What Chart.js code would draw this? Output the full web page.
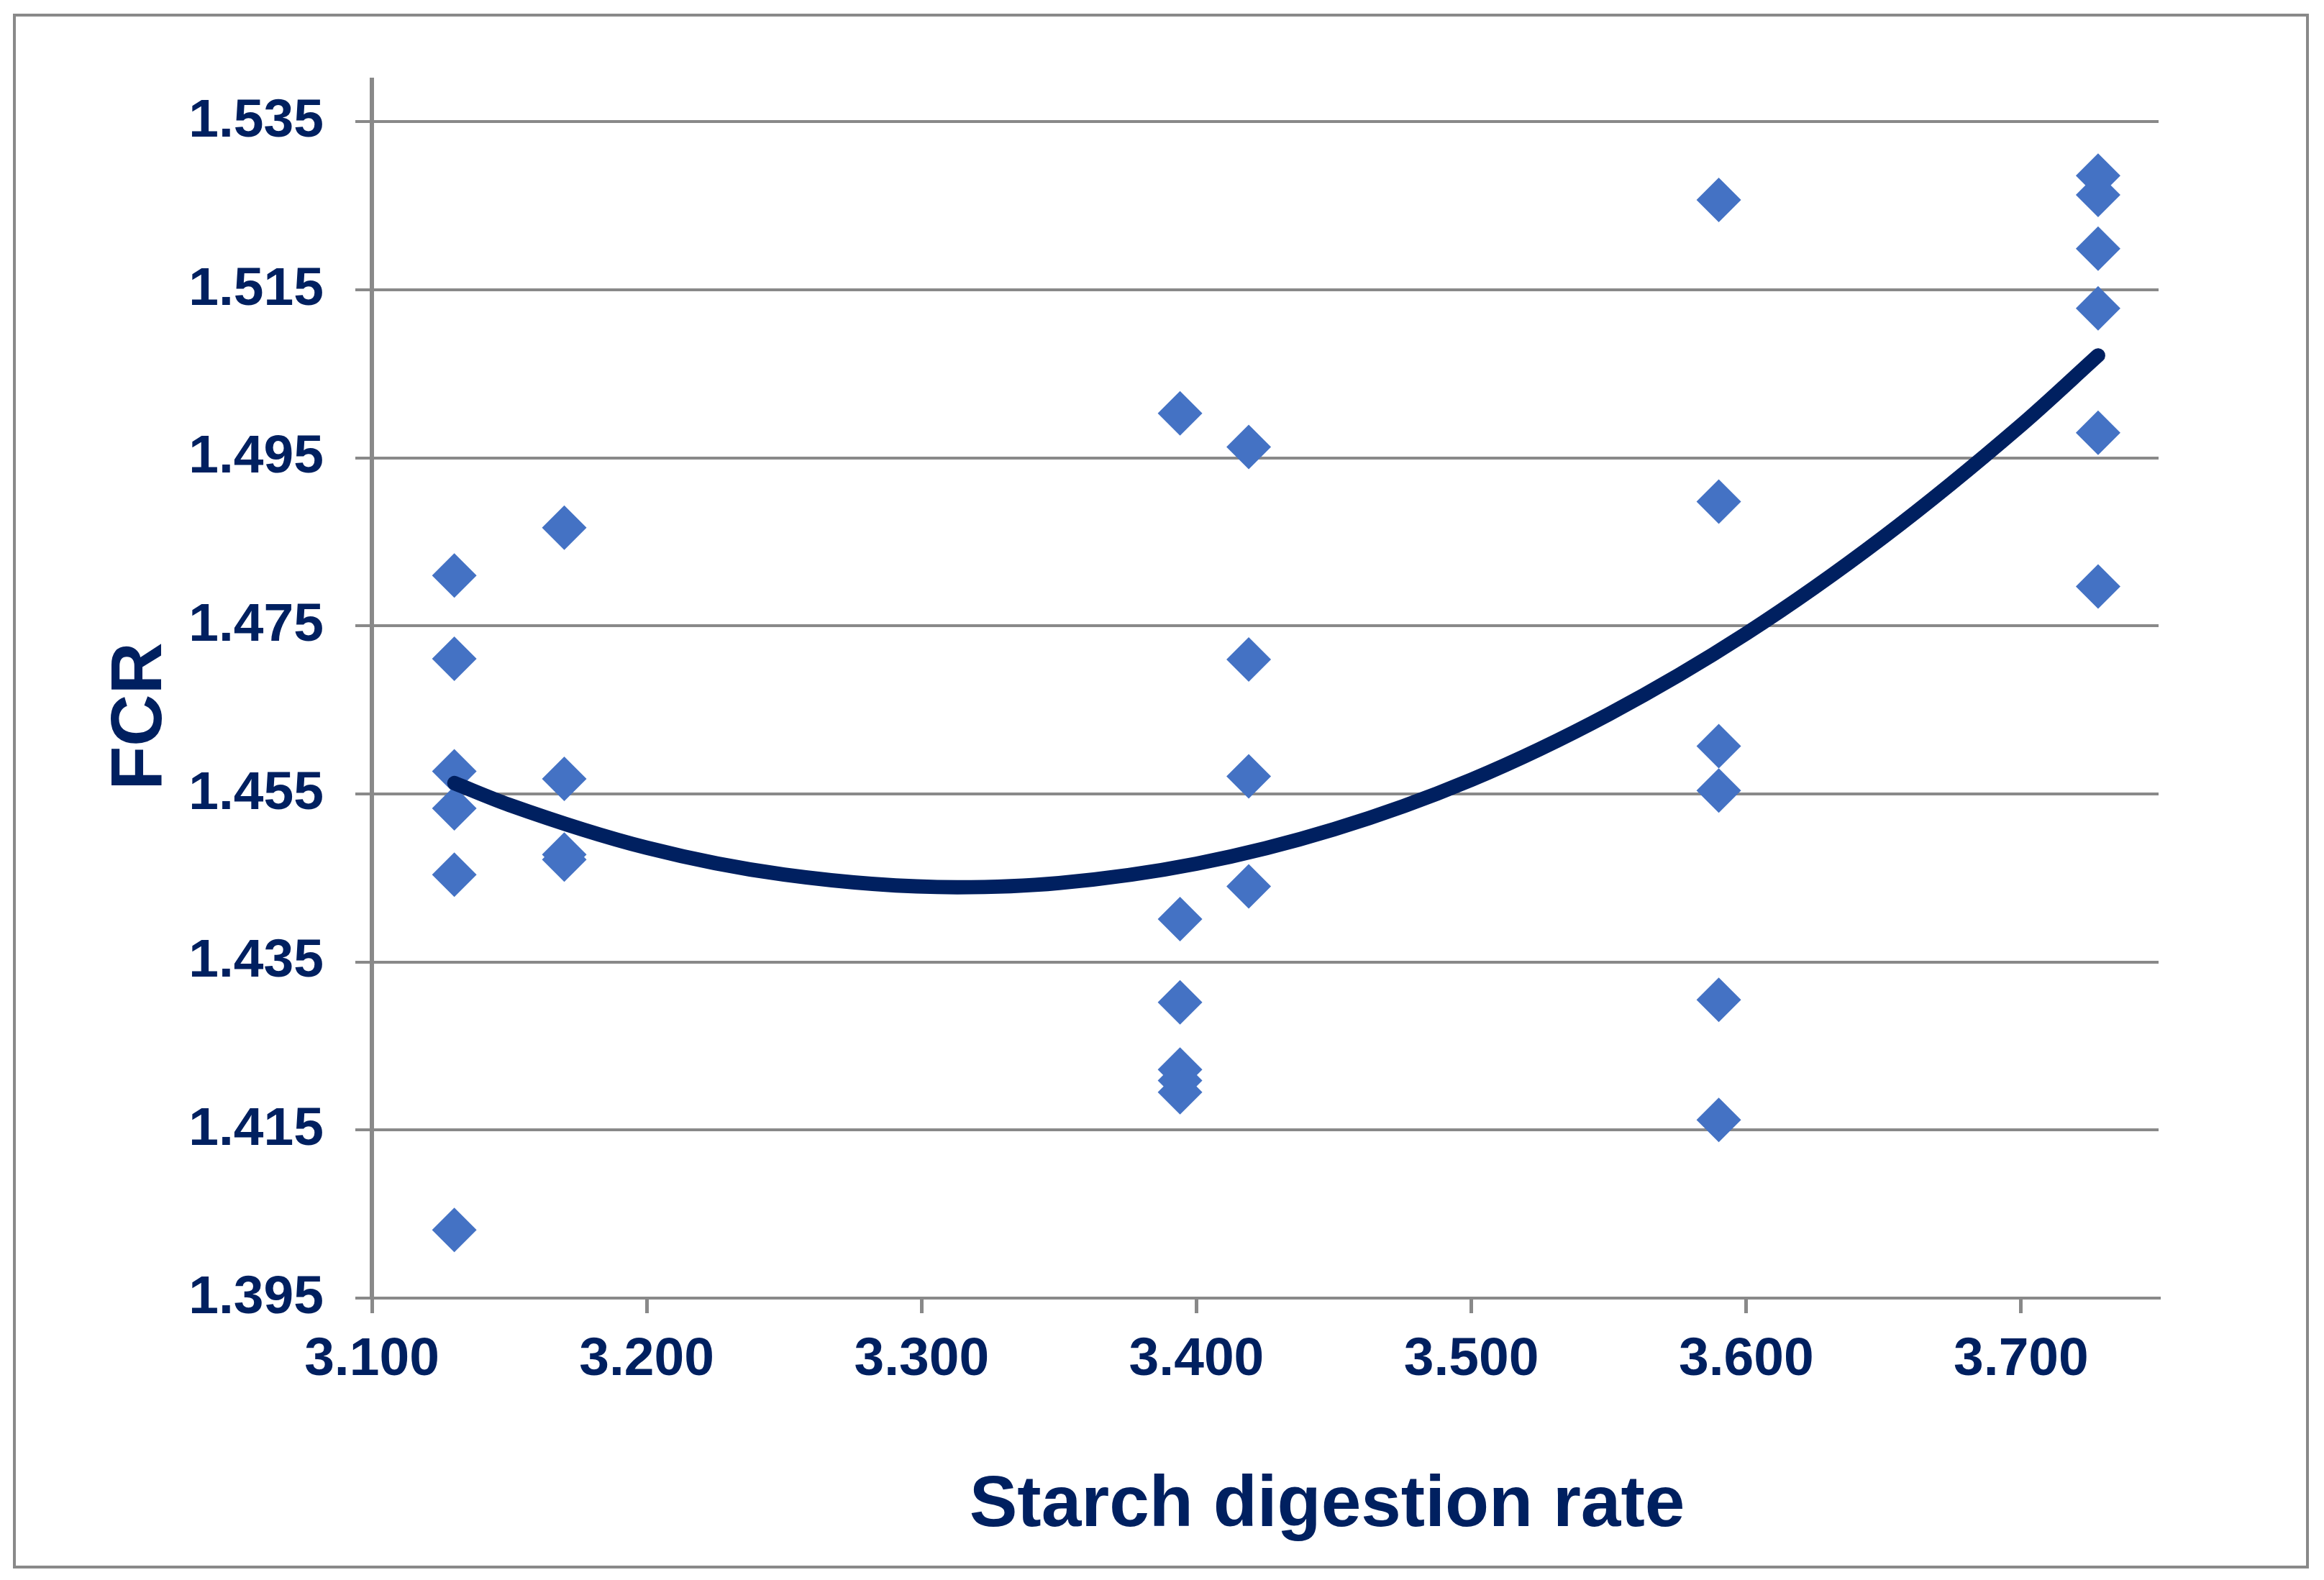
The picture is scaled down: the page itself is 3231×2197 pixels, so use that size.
<!DOCTYPE html>
<html>
<head>
<meta charset="utf-8">
<script src="https://cdn.jsdelivr.net/npm/chart.js@4.4.0/dist/chart.umd.min.js"></script>
<style>
  html, body { margin: 0; padding: 0; background: #fff; }
  #wrap { width: 3231px; height: 2197px; position: relative; }
</style>
</head>
<body>
<div id="wrap"><canvas id="fcrChart"></canvas></div>
<script>
// scatter data (starch digestion rate vs FCR)
const starchRate = [
  3.130, 3.130, 3.130, 3.130, 3.130, 3.130,
  3.170, 3.170, 3.170, 3.170,
  3.394, 3.394, 3.394, 3.394, 3.394, 3.394,
  3.419, 3.419, 3.419, 3.419,
  3.590, 3.590, 3.590, 3.590, 3.590, 3.590,
  3.728, 3.728, 3.728, 3.728, 3.728, 3.728
];
const fcrValues = [
  1.4810, 1.4711, 1.4577, 1.4533, 1.4454, 1.4031,
  1.4867, 1.4568, 1.4478, 1.4472,
  1.5003, 1.4401, 1.4302, 1.4222, 1.4209, 1.4195,
  1.4963, 1.4710, 1.4571, 1.4440,
  1.5257, 1.4898, 1.4607, 1.4554, 1.4305, 1.4162,
  1.5286, 1.5263, 1.5199, 1.5128, 1.4980, 1.4797
];

// polynomial trendline, read at a few points along the curve
const trendX = [3.130, 3.150, 3.200, 3.250, 3.313, 3.350, 3.400, 3.450, 3.500, 3.550, 3.600, 3.650, 3.700, 3.728];
const trendY = [1.4563, 1.4537, 1.4486, 1.4454, 1.4439, 1.4444, 1.4467, 1.4508, 1.4567, 1.4645, 1.4741, 1.4856, 1.4989, 1.5072];

const xTicks = [3.1, 3.2, 3.3, 3.4, 3.5, 3.6, 3.7];
const yTicks = [1.395, 1.415, 1.435, 1.455, 1.475, 1.495, 1.515, 1.535];

const navy = '#002060';
const gridGrey = '#898989';
const markerBlue = '#4472C4';

const points = starchRate.map((x, i) => ({ x: x, y: fcrValues[i] }));
const trend = trendX.map((x, i) => ({ x: x, y: trendY[i] }));

// outer frame and axis titles
const frameAndTitles = {
  id: 'frameAndTitles',
  beforeDraw(chart) {
    const ctx = chart.ctx;
    ctx.save();
    ctx.fillStyle = '#ffffff';
    ctx.fillRect(0, 0, chart.width, chart.height);
    ctx.strokeStyle = gridGrey;
    ctx.lineWidth = 4;
    ctx.strokeRect(20, 21, 3188, 2158);
    ctx.restore();
  },
  afterDraw(chart) {
    const ctx = chart.ctx;
    ctx.save();
    ctx.fillStyle = navy;
    ctx.font = 'bold 100px "Liberation Sans", Arial, sans-serif';
    ctx.textAlign = 'center';
    ctx.textBaseline = 'alphabetic';
    ctx.fillText('Starch digestion rate', 1845, 2122);
    ctx.translate(224, 996);
    ctx.rotate(-Math.PI / 2);
    ctx.fillText('FCR', 0, 0);
    ctx.restore();
  }
};

new Chart(document.getElementById('fcrChart'), {
  type: 'scatter',
  data: {
    datasets: [
      {
        type: 'line',
        label: 'Trend',
        data: trend,
        borderColor: navy,
        borderWidth: 20,
        borderCapStyle: 'round',
        borderJoinStyle: 'round',
        pointRadius: 0,
        fill: false,
        cubicInterpolationMode: 'monotone',
        order: 0
      },
      {
        label: 'FCR',
        data: points,
        pointStyle: 'rectRot',
        pointRadius: 31,
        pointHoverRadius: 31,
        backgroundColor: markerBlue,
        borderWidth: 0,
        order: 1
      }
    ]
  },
  options: {
    responsive: true,
    maintainAspectRatio: false,
    animation: false,
    devicePixelRatio: 1,
    layout: { padding: { left: 0, top: 111, right: 230, bottom: 0 } },
    plugins: {
      legend: { display: false },
      tooltip: { enabled: false }
    },
    scales: {
      x: {
        type: 'linear',
        min: 3.1,
        max: 3.75,
        afterBuildTicks: (scale) => { scale.ticks = xTicks.map(v => ({ value: v })); },
        afterFit: (scale) => { scale.height = 392; },
        border: { color: gridGrey, width: 4 },
        grid: { drawOnChartArea: false, drawTicks: true, tickLength: 21, color: gridGrey, lineWidth: 5 },
        ticks: {
          color: navy,
          padding: 20,
          maxRotation: 0,
          font: { family: '"Liberation Sans", Arial, sans-serif', size: 75, weight: 'bold' },
          callback: (v) => v.toFixed(3)
        }
      },
      y: {
        type: 'linear',
        min: 1.395,
        max: 1.54,
        afterBuildTicks: (scale) => { scale.ticks = yTicks.map(v => ({ value: v })); },
        afterFit: (scale) => { scale.width = 517; },
        border: { color: gridGrey, width: 6 },
        grid: { color: gridGrey, lineWidth: 4, tickLength: 23 },
        ticks: {
          color: navy,
          padding: 44,
          font: { family: '"Liberation Sans", Arial, sans-serif', size: 75, weight: 'bold' },
          callback: (v) => v.toFixed(3)
        }
      }
    }
  },
  plugins: [frameAndTitles]
});
</script>
</body>
</html>
